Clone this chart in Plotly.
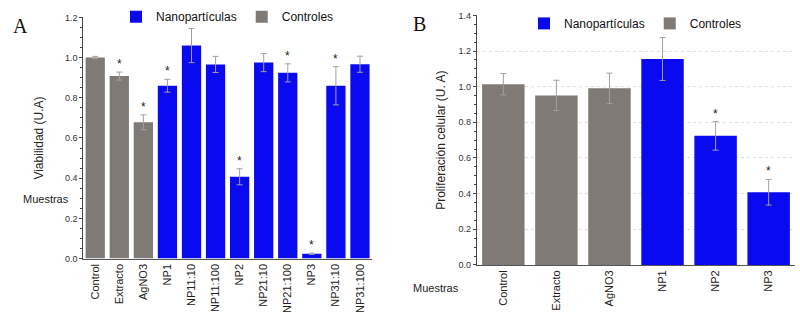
import plotly.graph_objects as go

# Panel A data
a_ctrl_cats = ["Control", "Extracto", "AgNO3"]
a_ctrl_vals = [1.0, 0.908, 0.678]
a_ctrl_err = [0.006, 0.02, 0.037]
a_np_cats = ["NP1", "NP11:10", "NP11:100", "NP2", "NP21:10", "NP21:100", "NP3", "NP31:10", "NP31:100"]
a_np_vals = [0.86, 1.06, 0.966, 0.407, 0.975, 0.924, 0.024, 0.86, 0.967]
a_np_err = [0.032, 0.085, 0.04, 0.04, 0.045, 0.045, 0.003, 0.095, 0.04]
a_star_cats = ["Extracto", "AgNO3", "NP1", "NP2", "NP21:100", "NP3", "NP31:10"]

# Panel B data
b_ctrl_cats = ["Control", "Extracto", "AgNO3"]
b_ctrl_vals = [1.014, 0.951, 0.991]
b_ctrl_err = [0.06, 0.085, 0.085]
b_np_cats = ["NP1", "NP2", "NP3"]
b_np_vals = [1.155, 0.724, 0.408]
b_np_err = [0.12, 0.08, 0.072]
b_star_cats = ["NP2", "NP3"]

BLUE = "#0a0af0"
GRAY = "#7f7a75"
ERRC = "#a0a0a0"
FONT = "Liberation Sans, Arial, sans-serif"

fig = go.Figure()

def add_panel(xa, ya, ctrl_c, ctrl_v, ctrl_e, np_c, np_v, np_e, leg):
    fig.add_trace(go.Bar(x=np_c, y=np_v, name="Nanopartículas", marker_color=BLUE,
                         marker_line_width=0,
                         error_y=dict(type="data", array=np_e, color=ERRC, thickness=1, width=3),
                         xaxis=xa, yaxis=ya, legend=leg))
    fig.add_trace(go.Bar(x=ctrl_c, y=ctrl_v, name="Controles", marker_color=GRAY,
                         marker_line_width=0,
                         error_y=dict(type="data", array=ctrl_e, color=ERRC, thickness=1, width=3),
                         xaxis=xa, yaxis=ya, legend=leg))

add_panel("x", "y", a_ctrl_cats, a_ctrl_vals, a_ctrl_err, a_np_cats, a_np_vals, a_np_err, "legend")
add_panel("x2", "y2", b_ctrl_cats, b_ctrl_vals, b_ctrl_err, b_np_cats, b_np_vals, b_np_err, "legend2")

a_all_cats = a_ctrl_cats + a_np_cats
a_all_vals = dict(zip(a_all_cats, a_ctrl_vals + a_np_vals))
a_all_err = dict(zip(a_all_cats, a_ctrl_err + a_np_err))
b_all_cats = b_ctrl_cats + b_np_cats
b_all_vals = dict(zip(b_all_cats, b_ctrl_vals + b_np_vals))
b_all_err = dict(zip(b_all_cats, b_ctrl_err + b_np_err))

annotations = []
for c in a_star_cats:
    annotations.append(dict(x=c, y=a_all_vals[c] + a_all_err[c], xref="x", yref="y",
                            text="*", showarrow=False, yshift=8,
                            font=dict(family=FONT, size=12, color="#222")))
for c in b_star_cats:
    annotations.append(dict(x=c, y=b_all_vals[c] + b_all_err[c], xref="x2", yref="y2",
                            text="*", showarrow=False, yshift=8,
                            font=dict(family=FONT, size=12, color="#222")))

annotations += [
    dict(x=0.014, y=1 - 22 / 320, xref="paper", yref="paper", text="A", showarrow=False,
         font=dict(family="Liberation Serif, serif", size=20, color="#111"), xanchor="left", yanchor="middle"),
    dict(x=0.514, y=1 - 20 / 320, xref="paper", yref="paper", text="B", showarrow=False,
         font=dict(family="Liberation Serif, serif", size=20, color="#111"), xanchor="left", yanchor="middle"),
    dict(x=0.026, y=1 - 200.5 / 320, xref="paper", yref="paper", text="Muestras", showarrow=False,
         font=dict(family=FONT, size=11, color="#222"), xanchor="left", yanchor="middle"),
    dict(x=0.514, y=1 - 292.5 / 320, xref="paper", yref="paper", text="Muestras", showarrow=False,
         font=dict(family=FONT, size=11, color="#222"), xanchor="left", yanchor="middle"),
]

axis_font = dict(family=FONT, size=9, color="#333")
common_y = dict(showline=True, linecolor="#444", linewidth=1, ticks="outside", ticklen=3,
                tickcolor="#444", tickfont=axis_font, tickformat=".1f", zeroline=False,
                minor=dict(ticks="outside", ticklen=2, tickcolor="#444"))
common_x = dict(showline=True, linecolor="#555", linewidth=1, ticks="", tickangle=-90,
                tickfont=dict(family=FONT, size=11, color="#222"), type="category")

fig.update_layout(
    width=800, height=320,
    margin=dict(l=0, r=0, t=0, b=0),
    paper_bgcolor="white", plot_bgcolor="white",
    barmode="overlay", bargap=0.2,
    showlegend=True,
    xaxis=dict(domain=[0.104, 0.465], range=[-0.5, 11.5],
               categoryorder="array", categoryarray=a_all_cats, anchor="y", **common_x),
    yaxis=dict(domain=[0.182, 0.96], range=[0, 1.2], dtick=0.2, anchor="x", showgrid=False,
               title=dict(text="Viabilidad (U.A)", font=dict(family=FONT, size=12, color="#222"), standoff=18),
               **common_y),
    xaxis2=dict(domain=[0.596, 0.994], range=[-0.5, 5.5],
                categoryorder="array", categoryarray=b_all_cats, anchor="y2", **common_x),
    yaxis2=dict(domain=[0.1615, 0.9666], range=[0, 1.4], dtick=0.2, anchor="x2",
                showgrid=True, gridcolor="#dddddd", griddash="dot", gridwidth=1,
                title=dict(text="Proliferación celular (U. A)", font=dict(family=FONT, size=12, color="#222"), standoff=10),
                **common_y),
    legend=dict(orientation="h", x=0.145, y=1 - 12 / 320, xanchor="left", yanchor="middle",
                font=dict(family=FONT, size=12, color="#111"), bgcolor="rgba(0,0,0,0)",
                itemwidth=30, traceorder="normal"),
    legend2=dict(orientation="h", x=0.655, y=1 - 19 / 320, xanchor="left", yanchor="middle",
                 font=dict(family=FONT, size=12, color="#111"), bgcolor="rgba(0,0,0,0)",
                 itemwidth=30, traceorder="normal"),
    annotations=annotations,
)

fig.write_html("out.html", config={"displayModeBar": False})

# remove default page margin so the figure sits at the window origin
with open("out.html", "r", encoding="utf-8") as f:
    html = f.read()
html = html.replace("<body>", '<body style="margin:0;padding:0;overflow:hidden">', 1)
with open("out.html", "w", encoding="utf-8") as f:
    f.write(html)
